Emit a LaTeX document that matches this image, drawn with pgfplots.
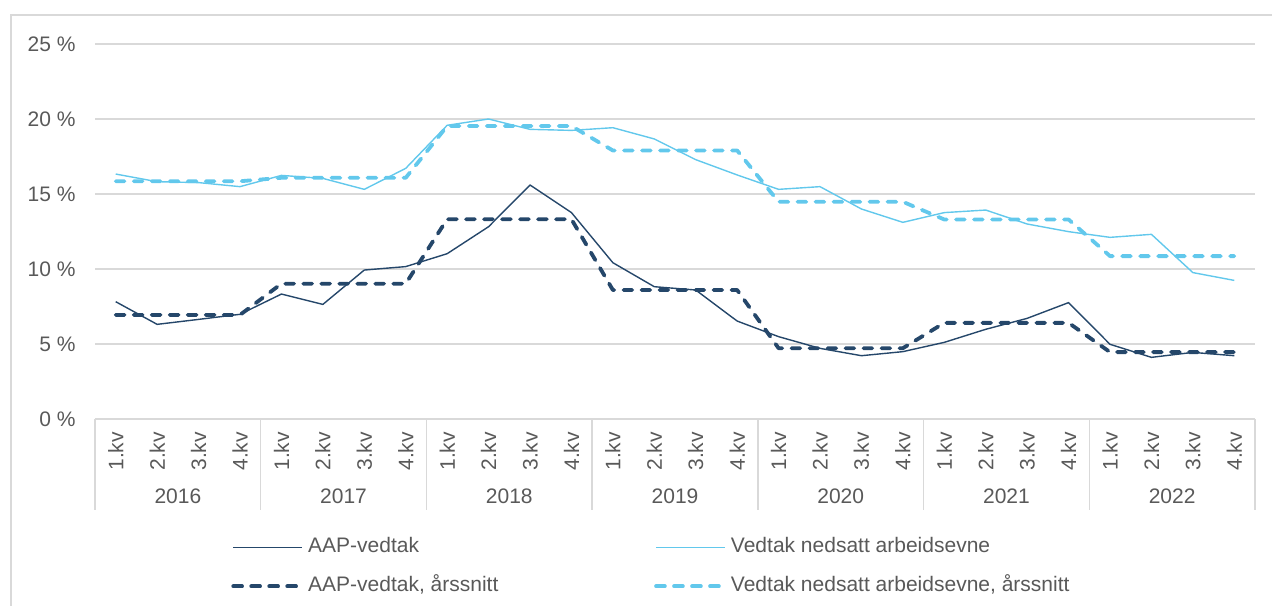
\documentclass[border=0pt]{standalone}
\usepackage{fontspec}
\setmainfont{Liberation Sans}
\usepackage{pgfplots}
\usepackage{pgfplotstable}
\pgfplotsset{compat=1.18}
\definecolor{dark}{HTML}{25476A}
\definecolor{light}{HTML}{62C8EC}
\definecolor{gridc}{HTML}{D9D9D9}
\definecolor{txt}{HTML}{595959}

\pgfplotstableread{
x aap vna aapavg vnaavg
1 7.82 16.33 6.94 15.85
2 6.31 15.82 6.94 15.85
3 6.64 15.76 6.94 15.85
4 6.98 15.49 6.94 15.85
5 8.33 16.24 9.02 16.08
6 7.64 16.04 9.02 16.08
7 9.93 15.31 9.02 16.08
8 10.16 16.71 9.02 16.08
9 11.02 19.58 13.32 19.53
10 12.82 20.00 13.32 19.53
11 15.60 19.31 13.32 19.53
12 13.76 19.24 13.32 19.53
13 10.42 19.42 8.60 17.90
14 8.82 18.67 8.60 17.90
15 8.60 17.29 8.60 17.90
16 6.53 16.27 8.60 17.90
17 5.49 15.31 4.72 14.48
18 4.71 15.49 4.72 14.48
19 4.22 14.00 4.72 14.48
20 4.49 13.11 4.72 14.48
21 5.11 13.76 6.41 13.30
22 5.98 13.93 6.41 13.30
23 6.71 13.00 6.41 13.30
24 7.76 12.49 6.41 13.30
25 4.98 12.11 4.46 10.86
26 4.11 12.31 4.46 10.86
27 4.44 9.76 4.46 10.86
28 4.22 9.24 4.46 10.86
}\data

\begin{document}
\begin{tikzpicture}[font=\fontsize{10.5}{12.6}\selectfont]
\useasboundingbox (0,0) rectangle (636pt,302.5pt);
\draw[gridc, line width=0.75pt] (5.5pt,-5pt) -- (5.5pt,295pt) -- (645pt,295pt);
\begin{axis}[
  at={(47.5pt,93pt)}, anchor=south west,
  scale only axis, width=580pt, height=187.5pt,
  xmin=0.5, xmax=28.5, ymin=0, ymax=25,
  ytick={0,5,10,15,20,25},
  yticklabel={\pgfmathprintnumber{\tick} \%},
  /pgf/number format/assume math mode=true,
  yticklabel style={inner sep=0pt, xshift=-9.5pt},
  xtick={1,...,28},
  xticklabels={1.kv,2.kv,3.kv,4.kv,1.kv,2.kv,3.kv,4.kv,1.kv,2.kv,3.kv,4.kv,1.kv,2.kv,3.kv,4.kv,1.kv,2.kv,3.kv,4.kv,1.kv,2.kv,3.kv,4.kv,1.kv,2.kv,3.kv,4.kv},
  xticklabel style={rotate=90, anchor=east, inner sep=0pt},
  xticklabel shift=6.35pt,
  major tick length=0pt,
  axis line style={draw=none},
  ymajorgrids, grid style={gridc, line width=0.75pt},
  tick label style={text=txt},
  clip=false,
  legend columns=2,
  legend cell align=left,
  legend image code/.code={\draw[#1] (0pt,0pt) -- (34.5pt,0pt);},
  legend style={draw=none, fill=none, inner sep=0pt,
    at={(0.1172,-0.3133)}, anchor=north west,
    row sep=9pt,
    nodes={inner xsep=2pt, inner ysep=0pt, text height=8pt, text depth=2.5pt, text=txt},
    /tikz/every even column/.append style={column sep=0pt}},
]
\pgfplotsinvokeforeach{0.5,4.5,8.5,12.5,16.5,20.5,24.5,28.5}{
  \draw[gridc, line width=0.75pt] (axis cs:#1,0) -- ++(0pt,-45.5pt);
}
\node[text=txt, yshift=-38.85pt] at (axis cs:2.5,0) {2016};
\node[text=txt, yshift=-38.85pt] at (axis cs:6.5,0) {2017};
\node[text=txt, yshift=-38.85pt] at (axis cs:10.5,0) {2018};
\node[text=txt, yshift=-38.85pt] at (axis cs:14.5,0) {2019};
\node[text=txt, yshift=-38.85pt] at (axis cs:18.5,0) {2020};
\node[text=txt, yshift=-38.85pt] at (axis cs:22.5,0) {2021};
\node[text=txt, yshift=-38.85pt] at (axis cs:26.5,0) {2022};

\addplot[dark, line width=0.7pt, line join=round] table[x=x, y=aap] {\data};
\addlegendentry{\makebox[171pt][l]{AAP-vedtak}}
\addplot[light, line width=0.7pt, line join=round] table[x=x, y=vna] {\data};
\addlegendentry{Vedtak nedsatt arbeidsevne}
\addplot[dark, line width=1.9pt, line cap=round, line join=round, dash pattern=on 4.4pt off 4.6pt] table[x=x, y=aapavg] {\data};
\addlegendentry{\makebox[171pt][l]{AAP-vedtak, årssnitt}}
\addplot[light, line width=1.9pt, line cap=round, line join=round, dash pattern=on 4.4pt off 4.6pt] table[x=x, y=vnaavg] {\data};
\addlegendentry{Vedtak nedsatt arbeidsevne, årssnitt}
\end{axis}
\end{tikzpicture}
\end{document}
